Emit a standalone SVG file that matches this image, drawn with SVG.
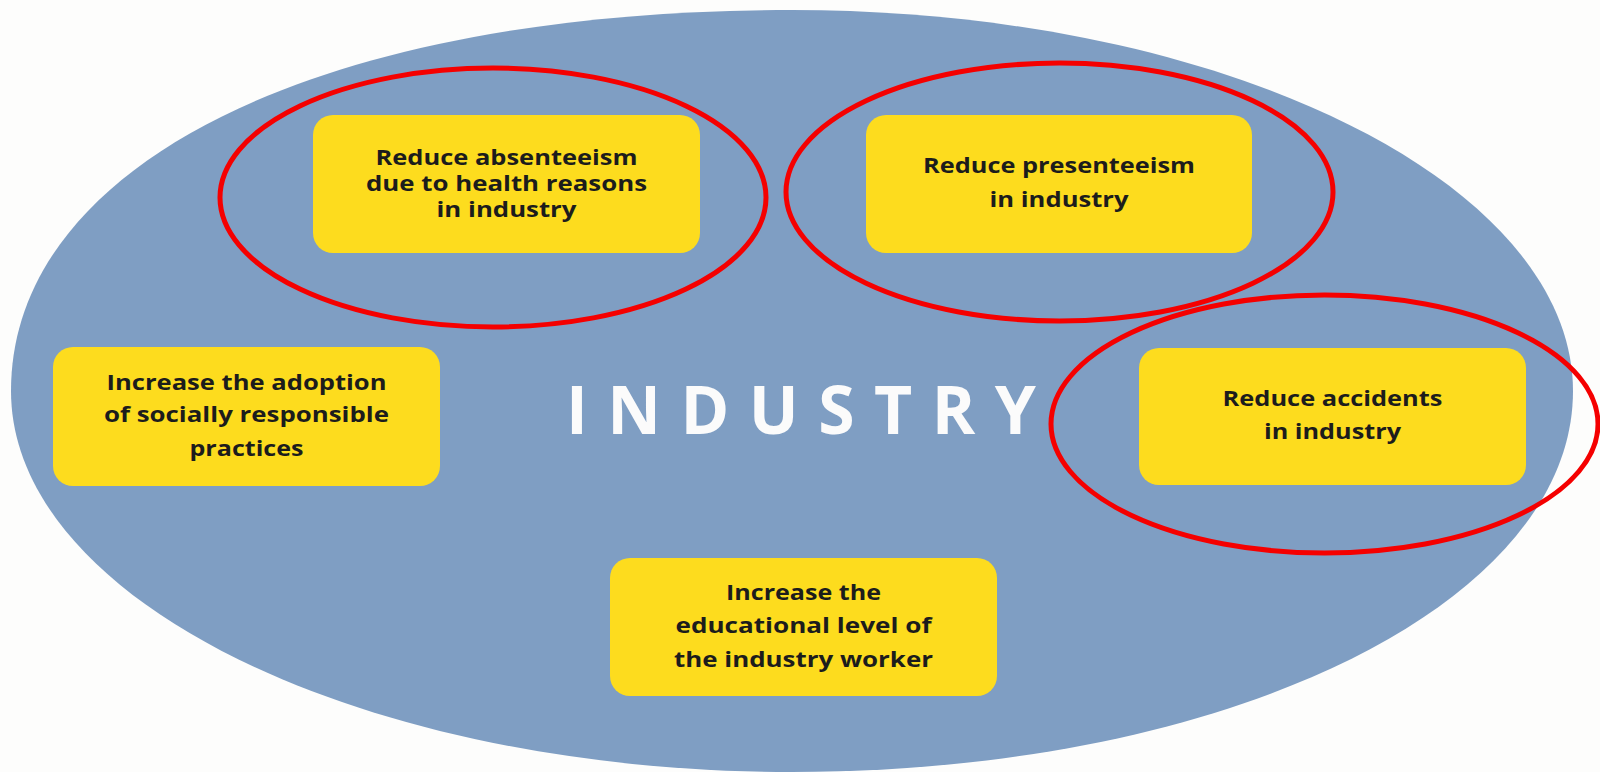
<svg xmlns="http://www.w3.org/2000/svg" width="1600" height="772" viewBox="0 0 1600 772">
  <style>
    .bg { fill: #fdfdfc; }
    .field { fill: #7f9ec3; }
    .box { fill: #fddc1e; }
    .label { font-family: "Open Sans", "Liberation Sans", sans-serif; font-weight: 700; font-size: 21px; fill: #1c1c1c; text-anchor: middle; }
    .title { font-family: "Open Sans", "Liberation Sans", sans-serif; font-weight: 700; font-size: 66px; fill: #fbfbfb; text-anchor: middle; }
    .ring { fill: none; stroke: #f50000; stroke-width: 5; }
  </style>

  <rect class="bg" x="0" y="0" width="1600" height="772"/>

  <!-- industry field: near-elliptical, slightly fuller at the upper left -->
  <g id="industry">
    <path class="field" d="M 11 391
      C 11 162 323 10 792 10
      C 1222 10 1573 182 1573 391
      C 1573 604 1229 772 792 772
      C 362 772 11 601 11 391 Z"/>
    <text class="title" x="801" y="434" textLength="470" lengthAdjust="spacing">INDUSTRY</text>
  </g>

  <!-- goals -->
  <g id="absenteeism">
    <rect class="box" x="313" y="115" width="387" height="138" rx="20"/>
    <text class="label" x="506.5" y="164.5" textLength="262" lengthAdjust="spacingAndGlyphs">Reduce absenteeism</text>
    <text class="label" x="506.5" y="191" textLength="281" lengthAdjust="spacingAndGlyphs">due to health reasons</text>
    <text class="label" x="506.5" y="217" textLength="140" lengthAdjust="spacingAndGlyphs">in industry</text>
  </g>

  <g id="presenteeism">
    <rect class="box" x="866" y="115" width="386" height="138" rx="20"/>
    <text class="label" x="1059" y="173" textLength="272" lengthAdjust="spacingAndGlyphs">Reduce presenteeism</text>
    <text class="label" x="1059" y="207" textLength="139" lengthAdjust="spacingAndGlyphs">in industry</text>
  </g>

  <g id="accidents">
    <rect class="box" x="1139" y="348" width="387" height="137" rx="20"/>
    <text class="label" x="1332.5" y="405.5" textLength="220" lengthAdjust="spacingAndGlyphs">Reduce accidents</text>
    <text class="label" x="1332.5" y="438.5" textLength="137" lengthAdjust="spacingAndGlyphs">in industry</text>
  </g>

  <g id="social-responsibility">
    <rect class="box" x="53" y="347" width="387" height="139" rx="20"/>
    <text class="label" x="246.5" y="389.5" textLength="280" lengthAdjust="spacingAndGlyphs">Increase the adoption</text>
    <text class="label" x="246.5" y="422" textLength="285" lengthAdjust="spacingAndGlyphs">of socially responsible</text>
    <text class="label" x="246.5" y="455.5" textLength="114" lengthAdjust="spacingAndGlyphs">practices</text>
  </g>

  <g id="education">
    <rect class="box" x="610" y="558" width="387" height="138" rx="20"/>
    <text class="label" x="803.5" y="600" textLength="155" lengthAdjust="spacingAndGlyphs">Increase the</text>
    <text class="label" x="803.5" y="633" textLength="256" lengthAdjust="spacingAndGlyphs">educational level of</text>
    <text class="label" x="803.5" y="666.5" textLength="259" lengthAdjust="spacingAndGlyphs">the industry worker</text>
  </g>

  <!-- highlight rings -->
  <g id="highlights">
    <ellipse class="ring" cx="493" cy="197.5" rx="273" ry="129.5"/>
    <ellipse class="ring" cx="1059.5" cy="192" rx="273.5" ry="129"/>
    <ellipse class="ring" cx="1324.5" cy="424" rx="273.5" ry="129"/>
  </g>
</svg>
